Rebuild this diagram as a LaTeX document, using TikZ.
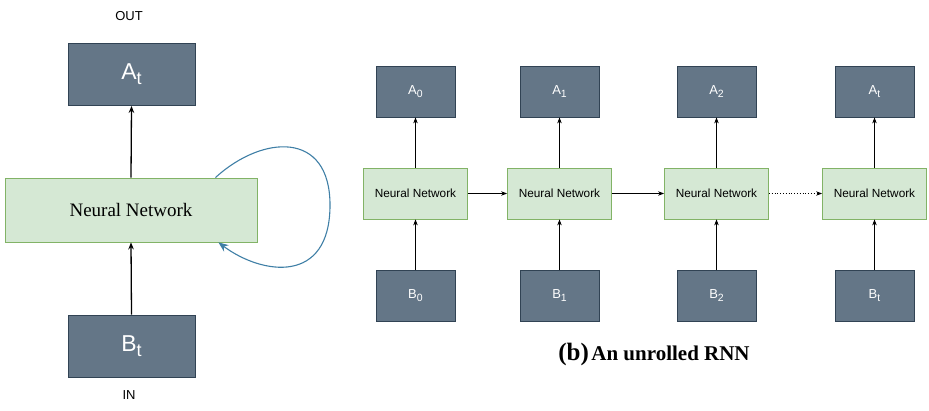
\documentclass[tikz,border=0pt]{standalone}
\usepackage{fontspec}
\setmainfont{Liberation Serif}
\setsansfont{Liberation Sans}
\usetikzlibrary{arrows.meta,calc}
\definecolor{darkfill}{HTML}{647687}
\definecolor{darkline}{HTML}{314354}
\definecolor{greenfill}{HTML}{D5E8D4}
\definecolor{greenline}{HTML}{82B366}
\definecolor{loopblue}{HTML}{3F7FA6}
\newcommand{\bigsub}[2]{#1\raisebox{-5pt}{\fontsize{18}{18}\selectfont #2}}
\newcommand{\smallsub}[2]{#1\raisebox{-3pt}{\fontsize{10.5}{10.5}\selectfont #2}}
\begin{document}
\begin{tikzpicture}[x=1pt,y=-1pt,
  darkbox/.style={draw=darkline, fill=darkfill, line width=0.8pt, inner sep=0pt, text=white, font=\sffamily},
  greenbox/.style={draw=greenline, fill=greenfill, line width=0.8pt, inner sep=0pt, text=black},
  bigdark/.style={darkbox, minimum width=127pt, minimum height=62pt, font=\sffamily\fontsize{23}{23}\selectfont},
  smalldark/.style={darkbox, minimum width=79pt, minimum height=51pt, font=\sffamily\fontsize{13}{13}\selectfont},
  smallnn/.style={greenbox, minimum width=104pt, minimum height=51pt, font=\sffamily\fontsize{11.8}{11.8}\selectfont},
  conn/.style={draw=black, line width=0.8pt, -{Stealth[length=6pt,width=4.5pt]}},
  bigconn/.style={draw=black, line width=1.3pt, -{Stealth[length=7pt,width=5.5pt]}},
  lbl/.style={font=\sffamily\fontsize{13}{13}\selectfont, inner sep=0pt}
]
\useasboundingbox (0,0) rectangle (929,410);

% ---- left: folded RNN ----
\node[bigdark] (At) at (131.5,74.5) {\bigsub{A}{t}};
\node[greenbox, minimum width=252pt, minimum height=64pt, font=\fontsize{19}{19}\selectfont] (nnL) at (131,210) {Neural Network};
\node[bigdark] (Bt) at (131.5,346) {\bigsub{B}{t}};
\node[lbl] (out) at (129,16) {OUT};
\node[lbl] (in) at (129,395) {IN};
\draw[bigconn] (nnL.north) -- (At.south);
\draw[bigconn] (Bt.north) -- (nnL.south);
\coordinate (ls) at ($(nnL.north east)+(-42,0)$);
\coordinate (le) at ($(nnL.south east)+(-39,0)$);
\draw[draw=loopblue, line width=1.1pt, -{Stealth[length=10pt,width=8pt]}]
  (ls) .. controls (262,135) and (330,130) .. (330,205)
       .. controls (330,285) and (262,275) .. (le);

% ---- right: unrolled RNN ----
\foreach \i/\x/\s in {0/415.5/0, 1/559.5/1, 2/716.5/2, 3/874.5/t}{
  \node[smalldark] (A\i) at (\x,91.5) {\smallsub{A}{\s}};
  \node[smallnn] (N\i) at (\x,193.5) {Neural Network};
  \node[smalldark] (B\i) at (\x,296) {\smallsub{B}{\s}};
  \draw[conn] (N\i.north) -- (A\i.south);
  \draw[conn] (B\i.north) -- (N\i.south);
}
\draw[conn] (N0.east) -- (N1.west);
\draw[conn] (N1.east) -- (N2.west);
\draw[conn, dotted] (N2.east) -- (N3.west);

\node[inner sep=0pt, font=\bfseries] (cap) at (654,354)
  {{\fontsize{25}{25}\selectfont (b)} {\fontsize{21}{21}\selectfont An unrolled RNN}};
\end{tikzpicture}
\end{document}
